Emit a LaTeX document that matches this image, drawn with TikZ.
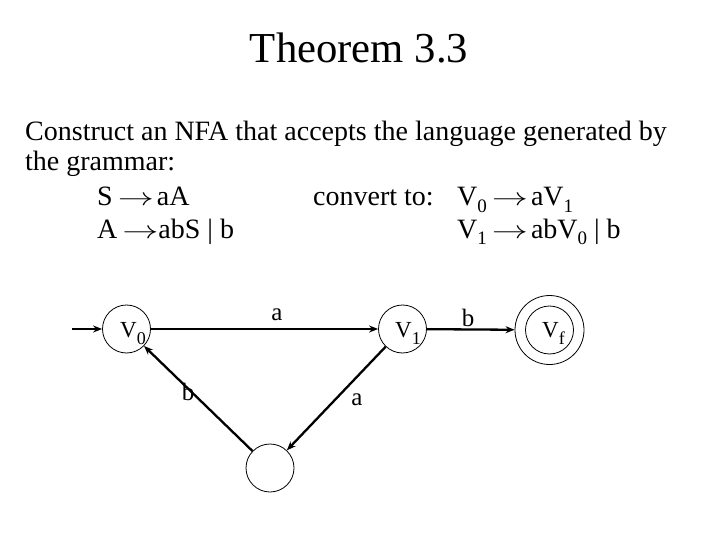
\documentclass[tikz,border=0pt]{standalone}
\usepackage{fontspec}
\setmainfont{Liberation Serif}
\usetikzlibrary{arrows.meta}
\newcommand{\mysub}[3]{\raisebox{-#2}{\fontsize{#3}{#3}\selectfont #1}}
\newcommand{\myarr}{\hspace{5pt}\scalebox{1.45}[1]{$\rightarrow$}\hspace{3pt}}
\begin{document}
\begin{tikzpicture}[x=1pt,y=-1pt,
  txt/.style={inner sep=0pt,anchor=base west,font=\fontsize{28}{28}\selectfont},
  state/.style={circle,draw,line width=0.8pt,minimum size=48pt,inner sep=0pt},
  stlab/.style={inner sep=0pt,anchor=base west,font=\fontsize{23}{23}\selectfont},
  edge/.style={line width=2.3pt,-{Stealth[length=9pt,width=7pt]}},
  lab/.style={inner sep=0pt,anchor=base,font=\fontsize{25}{25}\selectfont}]
\useasboundingbox (0,0) rectangle (720,540);
\node[inner sep=0pt,anchor=base,font=\fontsize{42.7}{42.7}\selectfont] (title) at (359,63) {Theorem 3.3};
\node[txt] (l1) at (25,141) {Construct an NFA that accepts the language generated by};
\node[txt] (l2) at (25,171) {the grammar:};
\node[txt] (g1) at (97,206) {S\myarr aA};
\node[txt] (g2) at (97,238) {A\myarr\hspace{-3pt}abS | b};
\node[txt] (c1) at (313,206) {convert to:};
\node[txt] (c2) at (457,206) {V\mysub{0}{6pt}{19}\myarr aV\mysub{1}{6pt}{19}};
\node[txt] (c3) at (457,238) {V\mysub{1}{6pt}{19}\myarr abV\mysub{0}{6pt}{19} | b};
\node[state] (v0) at (126.5,329) {};
\node[state] (v1) at (402.5,329) {};
\node[state] (vf) at (549.5,330) {};
\node[circle,draw,line width=0.8pt,minimum size=69pt,inner sep=0pt] (vfo) at (549.5,330) {};
\node[state] (q) at (270,468) {};
\node[stlab] (v0t) at (120,337) {V\mysub{0}{7pt}{18}};
\node[stlab] (v1t) at (395,337) {V\mysub{1}{7pt}{18}};
\node[stlab] (vft) at (542,337) {V\mysub{f}{7pt}{18}};
\coordinate (start) at (72,329);
\draw[edge] (start) -- (v0);
\draw[edge] (v0) -- (v1);
\draw[edge] (v1) -- (vfo);
\draw[edge] (v1) -- (q);
\draw[edge] (q) -- (v0);
\node[lab] (la1) at (277,320) {a};
\node[lab] (lb1) at (468,326) {b};
\node[lab] (la2) at (357,405) {a};
\node[lab] (lb2) at (188,400) {b};
\end{tikzpicture}
\end{document}
